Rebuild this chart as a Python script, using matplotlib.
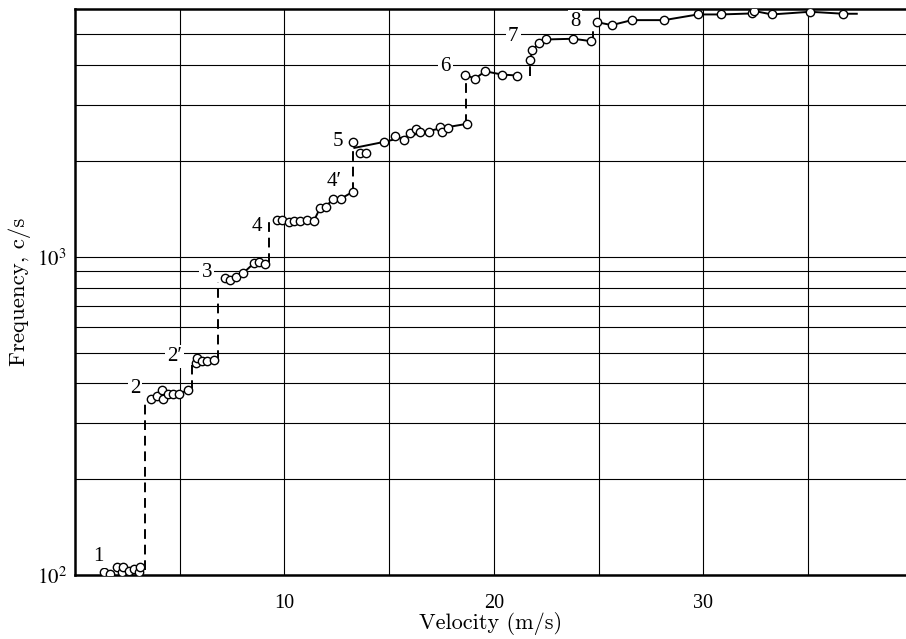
import matplotlib.pyplot as plt

plt.rcParams['mathtext.fontset'] = 'stix'

# mode 1
v1 = [1.38, 1.67, 2.00, 2.24, 2.29, 2.58, 2.82, 3.06, 3.10]
f1 = [102.4, 100.7, 106, 102.4, 106, 103, 104.6, 102.4, 106]
# mode 2
v2 = [3.62, 3.90, 4.17, 4.22, 4.46, 4.69, 4.98, 5.41]
f2 = [357, 364, 380, 358, 370, 370, 370, 382]
# mode 2'
v2p = [5.78, 5.84, 6.05, 6.32, 6.64]
f2p = [463, 480, 469, 471, 474]
# mode 3
v3 = [7.16, 7.40, 7.67, 8.04, 8.55, 8.80, 9.07]
f3 = [857, 847, 861, 889, 955, 960, 951]
# mode 4 / 4'
v4 = [9.63, 9.89, 10.20, 10.46, 10.74, 11.08, 11.41, 11.70, 11.99, 12.32, 12.70, 13.28]
f4 = [1307, 1307, 1284, 1293, 1298, 1307, 1298, 1421, 1436, 1522, 1522, 1601]
# mode 5
v5 = [13.29, 13.61, 13.90, 14.77, 15.28, 15.73, 16.00, 16.28, 16.48, 16.92, 17.43, 17.54, 17.80, 18.71]
f5 = [2288, 2119, 2119, 2295, 2389, 2322, 2449, 2521, 2460, 2460, 2558, 2460, 2540, 2614]
line5_v = [13.34, 14.77, 16.00, 17.43, 18.71]
line5_f = [2197, 2295, 2400, 2530, 2614]
# mode 6
v6 = [18.62, 19.10, 19.58, 20.38, 21.12]
f6 = [3735, 3622, 3824, 3735, 3708]
# mode 7
v7 = [21.73, 21.84, 22.17, 22.48, 23.80, 24.64]
f7 = [4134, 4454, 4699, 4813, 4838, 4754]
# mode 8
v8 = [24.91, 25.63, 26.59, 28.13, 29.74, 30.85, 32.32, 32.43, 33.27, 35.10, 36.69]
f8 = [5457, 5340, 5536, 5536, 5768, 5768, 5810, 5916, 5768, 5881, 5797]
line8_end = (37.33, 5797)

# dashed jumps between modes
jump_v = [3.35, 5.57, 6.84, 9.28, 13.28, 18.67, 21.73, 24.75]
jump_lo = [104, 380, 474, 955, 1601, 2614, 3708, 4754]
jump_hi = [345, 457, 835, 1290, 2200, 3603, 4134, 5240]

mode_labels = ['1', '2', '2\u2032', '3', '4', '4\u2032', '5', '6', '7', '8']
label_v = [1.12, 2.87, 4.75, 6.29, 8.68, 12.37, 12.57, 17.70, 20.93, 23.88]
label_f = [114, 386, 486, 889, 1245, 1726, 2305, 3967, 4930, 5495]

serif = ['Liberation Serif', 'DejaVu Serif']

fig = plt.figure(figsize=(9.06, 6.39), dpi=100)
ax = fig.add_axes([75 / 906, 64 / 639, 1 - 75 / 906, 566 / 639])
ax.set_yscale('log')
ax.set_xlim(0, 39.68)
ax.set_ylim(100, 6000)

ax.set_xticks([10, 20, 30])
ax.set_xticklabels(['10', '20', '30'], fontsize=14.5, fontfamily=serif)
ax.set_xticks([5, 15, 25, 35], minor=True)
ax.set_yticks([100, 1000])
ax.set_yticklabels(['$10^2$', '$10^3$'], fontsize=15)
ax.set_yticks([200, 300, 400, 500, 600, 700, 800, 900, 2000, 3000, 4000, 5000], minor=True)
ax.set_yticklabels([], minor=True)
ax.tick_params(which='both', length=0)
ax.tick_params(axis='x', pad=14)
ax.tick_params(axis='y', pad=6)
ax.grid(which='both', color='black', linewidth=0.8)
ax.set_axisbelow(True)

for s in ['left', 'bottom', 'top']:
    ax.spines[s].set_linewidth(1.8)
ax.spines['right'].set_visible(False)

mk = dict(marker='o', ms=6, mfc='white', mec='black', mew=1.0, color='black', zorder=4)
ax.plot(v1, f1, ls='none', **mk)
ax.plot(v2, f2, lw=1.4, **mk)
ax.plot(v2p, f2p, lw=1.4, **mk)
ax.plot(v3, f3, lw=1.4, **mk)
ax.plot(v4, f4, lw=1.4, **mk)
ax.plot(line5_v, line5_f, color='black', lw=1.4, zorder=3)
ax.plot(v5, f5, ls='none', **mk)
ax.plot(v6, f6, lw=1.4, **mk)
ax.plot(v7, f7, lw=1.4, **mk)
ax.plot(v8 + [line8_end[0]], f8 + [line8_end[1]], color='black', lw=1.4, zorder=3)
ax.plot(v8, f8, ls='none', **mk)

for x, lo, hi in zip(jump_v, jump_lo, jump_hi):
    ax.plot([x, x], [lo, hi], color='black', lw=1.4, dashes=(5, 3), zorder=3)

for t, x, y in zip(mode_labels, label_v, label_f):
    ax.text(x, y, t, fontsize=15, fontfamily=serif, ha='center', va='center',
            bbox=dict(facecolor='white', edgecolor='none', pad=1.5), zorder=5)

ax.set_xlabel('Velocity (m/s)', fontsize=16, fontfamily='cmr10', labelpad=-1)
ax.set_ylabel('Frequency, c/s', fontsize=16.5, fontfamily='cmr10', labelpad=4)

plt.savefig('out.png', dpi=100)
